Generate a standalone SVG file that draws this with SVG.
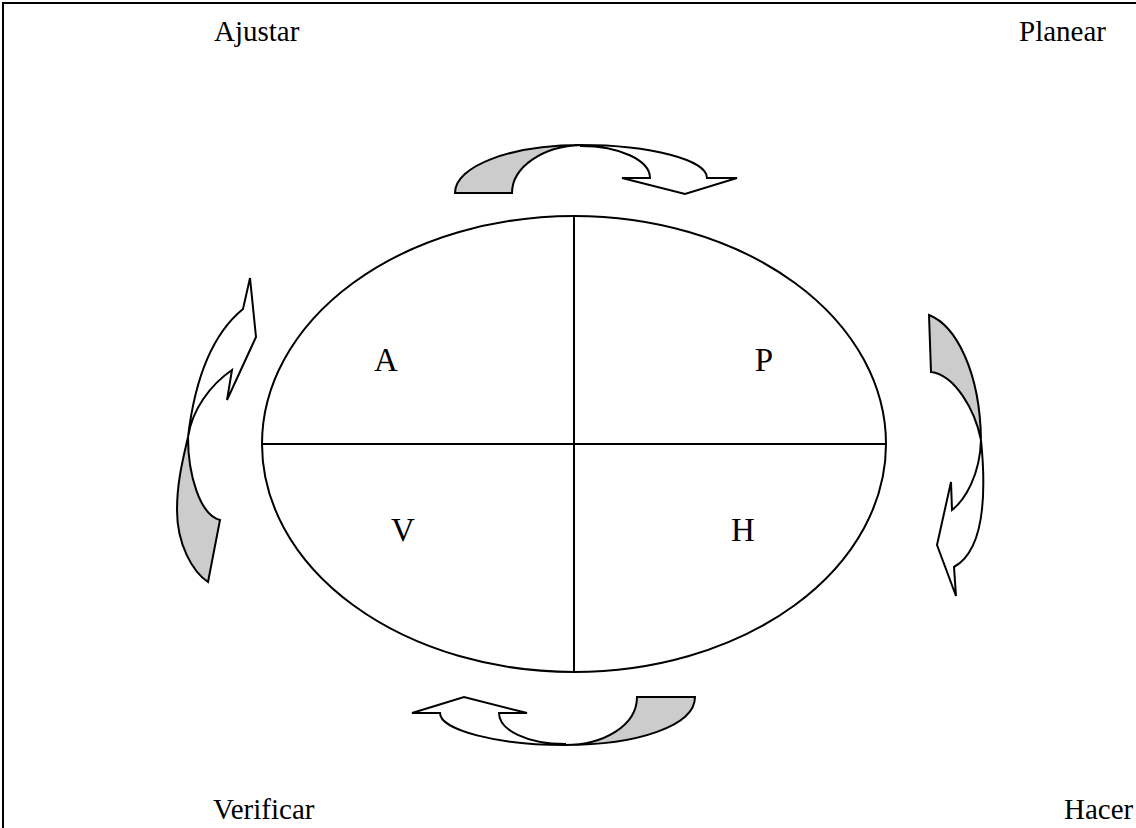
<svg xmlns="http://www.w3.org/2000/svg" width="1136" height="828" viewBox="0 0 1136 828">
<style>
.lbl{font-family:"Liberation Serif","Times New Roman",serif;font-size:29px;fill:#000}
.big{font-family:"Liberation Serif","Times New Roman",serif;font-size:33px;fill:#000}
.ln{stroke:#000;stroke-width:2;fill:none}
.gray{fill:#cccccc;stroke:#000;stroke-width:2;stroke-linejoin:miter}
.white{fill:#ffffff;stroke:#000;stroke-width:2;stroke-linejoin:miter}
</style>
<rect width="1136" height="828" fill="#fff"/>
<g id="frame">
<path class="ln" d="M3,828 L3,3 L1136,3"/>
</g>
<g id="labels">
<text class="lbl" x="214" y="41">Ajustar</text>
<text class="lbl" x="1019" y="41">Planear</text>
<text class="lbl" x="213" y="819">Verificar</text>
<text class="lbl" x="1064" y="819">Hacer</text>
</g>
<g id="cycle">
<ellipse class="ln" cx="574" cy="444" rx="312" ry="228"/>
<line class="ln" x1="574" y1="216" x2="574" y2="672"/>
<line class="ln" x1="262" y1="444" x2="886" y2="444"/>
<text class="big" x="386" y="371" text-anchor="middle">A</text>
<text class="big" x="764" y="371" text-anchor="middle">P</text>
<text class="big" x="403" y="541" text-anchor="middle">V</text>
<text class="big" x="743" y="541" text-anchor="middle">H</text>
</g>
<g id="connectors">
<g id="arrow-top">
<path class="gray" d="M455,193 C455,166 511,145 581,145 C543,146 512,167 512,193 Z"/>
<path class="white" d="M581,146 C619,146 650,160 650,178 L622,178 L685,194 L737,178 L707,178 C707,160 651,145 581,145 Z"/>
</g>
<g id="arrow-right">
<path class="gray" d="M929,315 C955,325 980,370 981,440 C975,410 955,375 931,372 Z"/>
<path class="white" d="M981,440 C986,490 985,550 954,567 L956,596 L937,545 L951,482 L952,510 C965,500 980,475 981,440 Z"/>
</g>
<g id="arrow-bottom">
<path class="gray" d="M695,697 C695,726 637,745 565,745 C603,745 637,726 637,697 Z"/>
<path class="white" d="M565,745 C497,745 440,730 440,713 L412,713 L464,697 L527,713 L499,713 C499,730 527,744 565,744 Z"/>
</g>
<g id="arrow-left">
<path class="gray" d="M208,582 C193,572 177,545 177,510 C177,480 184,455 188,437 C188,475 200,515 220,520 Z"/>
<path class="white" d="M188,437 C193,395 205,340 243,309 L250,278 L256,337 L227,400 L232,370 C210,385 192,410 188,437 Z"/>
</g>
</g>
</svg>
